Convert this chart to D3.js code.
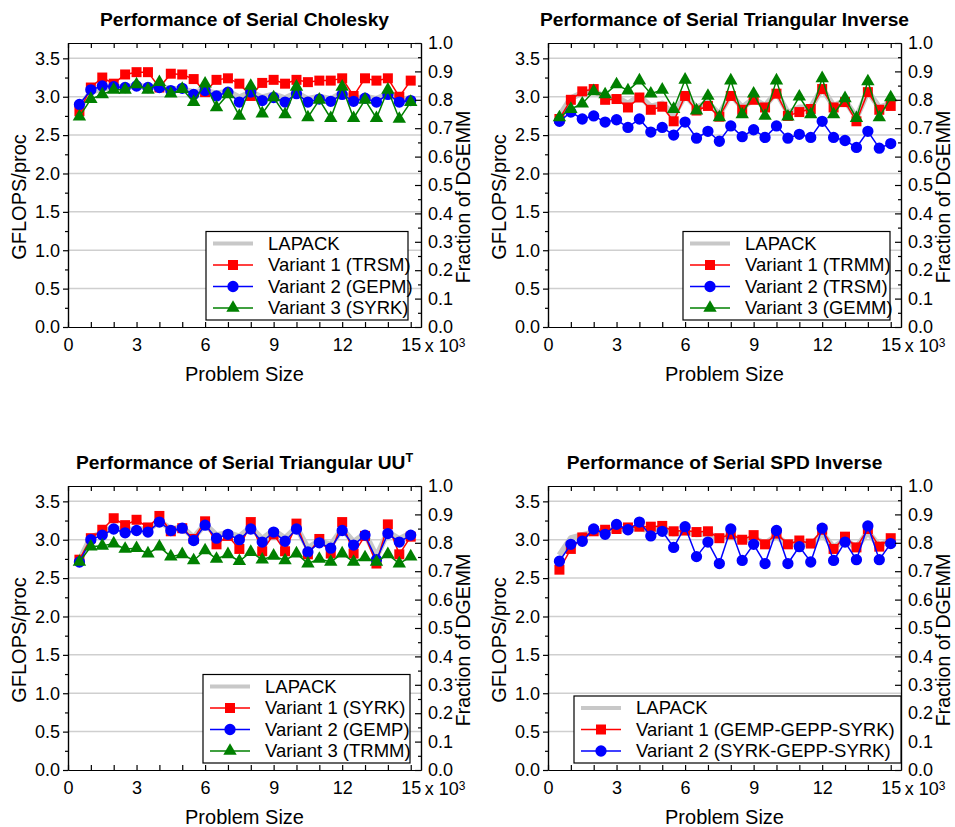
<!DOCTYPE html>
<html>
<head>
<meta charset="utf-8">
<script src="https://cdnjs.cloudflare.com/ajax/libs/d3/7.8.5/d3.min.js"></script>
<style>
body { margin: 0; background: #fff; }
svg { font-family: 'Liberation Sans', Arial, sans-serif; }
</style>
</head>
<body>
<svg id="chart"></svg>
<script>
let width = 955
let height = 827

// problem size, x 10^3
let sizes = [0.5, 1, 1.5, 2, 2.5, 3, 3.5, 4, 4.5, 5, 5.5, 6, 6.5, 7, 7.5, 8, 8.5, 9, 9.5, 10, 10.5, 11, 11.5, 12, 12.5, 13, 13.5, 14, 14.5, 15]

let xTicks = [0, 3, 6, 9, 12, 15]
let xMinorTicks = [0, 1, 2, 3, 4, 5, 6, 7, 8, 9, 10, 11, 12, 13, 14, 15]
let yTicks = [0, 0.5, 1, 1.5, 2, 2.5, 3, 3.5]
let yMinorTicks = [0.25, 0.75, 1.25, 1.75, 2.25, 2.75, 3.25]
let fracTicks = [0, 0.1, 0.2, 0.3, 0.4, 0.5, 0.6, 0.7, 0.8, 0.9, 1.0]
let fracMinorTicks = [0.05, 0.15, 0.25, 0.35, 0.45, 0.55, 0.65, 0.75, 0.85, 0.95]

// GFLOPS of DGEMM (fraction axis = 1.0)
let dgemmPeak = 3.7

// Serial Cholesky
let cholLapack = [2.86, 3.06, 3.11, 3.12, 3.13, 3.14, 3.13, 3.13, 3.10, 3.10, 3.06, 3.08, 3.04, 3.07, 2.99, 3.06, 2.99, 3.03, 2.98, 3.05, 2.97, 3.00, 2.97, 3.05, 2.97, 3.00, 2.97, 3.04, 2.96, 2.98]
let cholTrsm = [2.81, 3.12, 3.25, 3.17, 3.29, 3.32, 3.32, 3.12, 3.30, 3.29, 3.23, 3.06, 3.22, 3.24, 3.17, 3.01, 3.18, 3.22, 3.17, 3.22, 3.19, 3.21, 3.21, 3.24, 3.01, 3.24, 3.21, 3.24, 3.00, 3.21]
let cholGepm = [2.90, 3.09, 3.14, 3.13, 3.12, 3.14, 3.12, 3.12, 3.08, 3.11, 3.03, 3.08, 3.01, 3.06, 2.93, 3.06, 2.95, 2.99, 2.93, 3.04, 2.93, 2.97, 2.94, 3.03, 2.94, 2.98, 2.93, 3.03, 2.93, 2.95]
let cholSyrk = [2.74, 2.97, 3.03, 3.09, 3.09, 3.16, 3.09, 3.19, 3.04, 3.10, 2.93, 3.17, 2.86, 3.03, 2.75, 3.14, 2.78, 2.99, 2.77, 3.13, 2.73, 2.96, 2.72, 3.13, 2.72, 2.96, 2.72, 3.09, 2.71, 2.93]

// Serial Triangular Inverse
let triLapack = [2.75, 2.98, 3.05, 3.08, 2.99, 2.99, 2.91, 3.01, 2.87, 2.91, 2.76, 3.02, 2.86, 2.92, 2.77, 3.03, 2.86, 2.97, 2.88, 3.06, 2.79, 2.86, 2.86, 3.11, 2.88, 2.95, 2.73, 3.07, 2.86, 2.91]
let triTrmm = [2.71, 2.96, 3.07, 3.10, 2.96, 2.97, 2.86, 2.99, 2.83, 2.87, 2.68, 3.01, 2.82, 2.88, 2.74, 3.01, 2.83, 2.96, 2.86, 3.04, 2.75, 2.80, 2.84, 3.10, 2.86, 2.93, 2.68, 3.06, 2.83, 2.88]
let triTrsm = [2.68, 2.80, 2.71, 2.75, 2.67, 2.70, 2.60, 2.71, 2.54, 2.60, 2.50, 2.67, 2.46, 2.55, 2.42, 2.62, 2.48, 2.57, 2.47, 2.62, 2.46, 2.51, 2.47, 2.68, 2.47, 2.43, 2.34, 2.55, 2.33, 2.39]
let triGemm = [2.73, 2.84, 2.91, 3.07, 3.03, 3.16, 3.08, 3.21, 3.04, 3.09, 2.84, 3.22, 2.82, 3.01, 2.73, 3.21, 2.77, 3.04, 2.75, 3.21, 2.74, 3.00, 2.77, 3.24, 2.77, 2.98, 2.72, 3.20, 2.73, 2.99]

// Serial Triangular UU^T
let uuLapack = [2.73, 3.03, 3.09, 3.16, 3.12, 3.14, 3.13, 3.24, 3.14, 3.16, 3.03, 3.20, 3.06, 3.09, 3.04, 3.16, 3.01, 3.12, 3.02, 3.16, 2.89, 2.99, 2.93, 3.14, 2.97, 3.08, 2.78, 3.10, 3.01, 3.08]
let uuSyrk = [2.74, 3.02, 3.13, 3.28, 3.19, 3.26, 3.16, 3.31, 3.11, 3.15, 3.01, 3.24, 2.94, 3.05, 2.88, 3.23, 2.85, 3.07, 2.85, 3.21, 2.81, 3.01, 2.82, 3.23, 2.82, 3.05, 2.69, 3.20, 2.81, 3.04]
let uuGemp = [2.71, 3.00, 3.06, 3.14, 3.09, 3.12, 3.10, 3.23, 3.12, 3.15, 2.99, 3.19, 3.02, 3.07, 3.00, 3.14, 2.97, 3.10, 2.98, 3.14, 2.84, 2.96, 2.89, 3.12, 2.93, 3.06, 2.74, 3.08, 2.97, 3.06]
let uuTrmm = [2.71, 2.91, 2.92, 2.95, 2.88, 2.89, 2.82, 2.91, 2.78, 2.81, 2.73, 2.86, 2.75, 2.81, 2.72, 2.84, 2.74, 2.79, 2.73, 2.82, 2.69, 2.75, 2.71, 2.82, 2.71, 2.77, 2.71, 2.81, 2.69, 2.78]

// Serial SPD Inverse
let spdLapack = [2.80, 3.02, 3.06, 3.10, 3.12, 3.13, 3.14, 3.15, 3.12, 3.13, 3.08, 3.10, 3.07, 3.08, 3.02, 3.05, 2.98, 3.02, 2.95, 3.05, 2.93, 2.97, 2.93, 3.08, 2.90, 3.00, 2.90, 3.10, 2.92, 3.00]
let spdGemp = [2.61, 2.88, 3.03, 3.11, 3.13, 3.14, 3.16, 3.17, 3.17, 3.18, 3.11, 3.12, 3.10, 3.11, 3.02, 3.07, 3.00, 3.06, 2.94, 3.08, 2.94, 2.99, 2.95, 3.13, 2.88, 3.04, 2.90, 3.14, 2.91, 3.02]
let spdSyrk = [2.72, 2.94, 2.98, 3.14, 3.07, 3.20, 3.13, 3.23, 3.05, 3.11, 2.90, 3.17, 2.78, 2.97, 2.69, 3.14, 2.73, 2.94, 2.69, 3.12, 2.69, 2.91, 2.71, 3.15, 2.73, 2.97, 2.74, 3.18, 2.74, 2.95]

let red = '#ff0000'
let blue = '#0000ff'
let green = '#008000'
let gray = '#c8c8c8'

let panels = [
    {title: 'Performance of Serial Cholesky', ox: 0, oy: 0, legendX: 206, legendW: 202,
        series: [
            {label: 'LAPACK', values: cholLapack},
            {label: 'Variant 1 (TRSM)', values: cholTrsm, color: red, marker: d3.symbolSquare},
            {label: 'Variant 2 (GEPM)', values: cholGepm, color: blue, marker: d3.symbolCircle},
            {label: 'Variant 3 (SYRK)', values: cholSyrk, color: green, marker: d3.symbolTriangle}
        ]},
    {title: 'Performance of Serial Triangular Inverse', ox: 480, oy: 0, legendX: 203, legendW: 207,
        series: [
            {label: 'LAPACK', values: triLapack},
            {label: 'Variant 1 (TRMM)', values: triTrmm, color: red, marker: d3.symbolSquare},
            {label: 'Variant 2 (TRSM)', values: triTrsm, color: blue, marker: d3.symbolCircle},
            {label: 'Variant 3 (GEMM)', values: triGemm, color: green, marker: d3.symbolTriangle}
        ]},
    {title: 'Performance of Serial Triangular UU', sup: 'T', ox: 0, oy: 443, legendX: 203, legendW: 207,
        series: [
            {label: 'LAPACK', values: uuLapack},
            {label: 'Variant 1 (SYRK)', values: uuSyrk, color: red, marker: d3.symbolSquare},
            {label: 'Variant 2 (GEMP)', values: uuGemp, color: blue, marker: d3.symbolCircle},
            {label: 'Variant 3 (TRMM)', values: uuTrmm, color: green, marker: d3.symbolTriangle}
        ]},
    {title: 'Performance of Serial SPD Inverse', ox: 480, oy: 443, legendX: 94, legendW: 327,
        series: [
            {label: 'LAPACK', values: spdLapack},
            {label: 'Variant 1 (GEMP-GEPP-SYRK)', values: spdGemp, color: red, marker: d3.symbolSquare},
            {label: 'Variant 2 (SYRK-GEPP-SYRK)', values: spdSyrk, color: blue, marker: d3.symbolCircle}
        ]}
]

let svg = d3.select('#chart')
    .attr('width', width)
    .attr('height', height)

let plotLeft = 68
let plotRight = 421
let plotTop = 43
let plotBottom = 327

let markerSize = (marker) => {
    if (marker === d3.symbolSquare) return 100
    if (marker === d3.symbolCircle) return 100
    return 78
}

let styleAxis = (g) => {
    g.attr('font-family', null)
     .attr('font-size', 18)
    g.selectAll('text').attr('fill', '#000')
    g.selectAll('line, path').attr('stroke', '#000').attr('stroke-width', 1.2)
}

let drawPanel = (p) => {
    let g = svg.append('g').attr('transform', 'translate(' + p.ox + ',' + p.oy + ')')

    let xScale = d3.scaleLinear().domain([0, 15.45]).range([plotLeft, plotRight])
    let yScale = d3.scaleLinear().domain([0, dgemmPeak]).range([plotBottom, plotTop])
    let fracScale = d3.scaleLinear().domain([0, 1]).range([plotBottom, plotTop])

    // title
    let title = g.append('text')
        .attr('x', (plotLeft + plotRight) / 2)
        .attr('y', 26)
        .attr('text-anchor', 'middle')
        .attr('font-size', 19.2)
        .attr('font-weight', 'bold')
        .text(p.title)
    if (p.sup) {
        title.append('tspan').attr('dy', -7).attr('font-size', 12.5).text(p.sup)
    }

    // grid
    g.selectAll('.grid')
        .data(yTicks.filter(d => d > 0))
        .enter()
        .append('line')
        .attr('x1', plotLeft)
        .attr('x2', plotRight)
        .attr('y1', d => yScale(d))
        .attr('y2', d => yScale(d))
        .attr('stroke', '#cfcfcf')
        .attr('stroke-width', 1.5)

    // series
    let line = d3.line()
        .x((d, i) => xScale(sizes[i]))
        .y(d => yScale(d))

    p.series.forEach((s) => {
        if (!s.color) {
            g.append('path')
                .datum(s.values)
                .attr('d', line)
                .attr('fill', 'none')
                .attr('stroke', gray)
                .attr('stroke-width', 6)
                .attr('stroke-linejoin', 'round')
            return
        }
        g.append('path')
            .datum(s.values)
            .attr('d', line)
            .attr('fill', 'none')
            .attr('stroke', s.color)
            .attr('stroke-width', 1.5)
        g.selectAll(null)
            .data(s.values)
            .enter()
            .append('path')
            .attr('d', d3.symbol().type(s.marker).size(markerSize(s.marker)))
            .attr('transform', (d, i) => 'translate(' + xScale(sizes[i]) + ',' + yScale(d) + ')')
            .attr('fill', s.color)
    })

    // axes
    let bottom = g.append('g')
        .attr('transform', 'translate(0,' + plotBottom + ')')
        .call(d3.axisBottom(xScale).tickValues(xMinorTicks).tickSizeInner(-5).tickSizeOuter(0).tickPadding(11)
            .tickFormat(d => xTicks.includes(d) ? d : ''))
    styleAxis(bottom)

    let top = g.append('g')
        .attr('transform', 'translate(0,' + plotTop + ')')
        .call(d3.axisTop(xScale).tickValues(xMinorTicks).tickSizeInner(-5).tickSizeOuter(0).tickFormat(''))
    styleAxis(top)

    let left = g.append('g')
        .attr('transform', 'translate(' + plotLeft + ',0)')
        .call(d3.axisLeft(yScale).tickValues(yTicks).tickSizeInner(5).tickSizeOuter(0).tickPadding(3)
            .tickFormat(d3.format('.1f')))
    styleAxis(left)

    let leftMinor = g.append('g')
        .attr('transform', 'translate(' + plotLeft + ',0)')
        .call(d3.axisLeft(yScale).tickValues(yMinorTicks).tickSizeInner(3).tickSizeOuter(0).tickFormat(''))
    styleAxis(leftMinor)

    let right = g.append('g')
        .attr('transform', 'translate(' + plotRight + ',0)')
        .call(d3.axisRight(fracScale).tickValues(fracTicks).tickSizeInner(-6).tickSizeOuter(0).tickPadding(7)
            .tickFormat(d3.format('.1f')))
    styleAxis(right)

    let rightMinor = g.append('g')
        .attr('transform', 'translate(' + plotRight + ',0)')
        .call(d3.axisRight(fracScale).tickValues(fracMinorTicks).tickSizeInner(-3).tickSizeOuter(0).tickFormat(''))
    styleAxis(rightMinor)

    // x 10^3
    let mult = g.append('text')
        .attr('x', xScale(15) + 14)
        .attr('y', plotBottom + 12)
        .attr('dy', '0.71em')
        .attr('font-size', 18)
        .text('x 10')
    mult.append('tspan').attr('dy', -5).attr('font-size', 12).text('3')

    // axis titles
    g.append('text')
        .attr('x', (plotLeft + plotRight) / 2)
        .attr('y', 381)
        .attr('text-anchor', 'middle')
        .attr('font-size', 20)
        .text('Problem Size')

    g.append('text')
        .attr('transform', 'translate(19,197) rotate(-90)')
        .attr('text-anchor', 'middle')
        .attr('dy', '0.35em')
        .attr('font-size', 20)
        .text('GFLOPS/proc')

    g.append('text')
        .attr('transform', 'translate(463,197) rotate(-90)')
        .attr('text-anchor', 'middle')
        .attr('dy', '0.35em')
        .attr('font-size', 19.5)
        .text('Fraction of DGEMM')

    // legend
    let rowH = 21.5
    let legendH = 12 + (p.series.length - 1) * rowH + 12
    let legend = g.append('g')
        .attr('transform', 'translate(' + p.legendX + ',' + (plotBottom - 7 - legendH) + ')')
    legend.append('rect')
        .attr('width', p.legendW)
        .attr('height', legendH)
        .attr('fill', '#fff')
        .attr('stroke', '#000')
        .attr('stroke-width', 1.2)
    p.series.forEach((s, i) => {
        let y = 12 + i * rowH
        legend.append('line')
            .attr('x1', 7)
            .attr('x2', 47)
            .attr('y1', y)
            .attr('y2', y)
            .attr('stroke', s.color || gray)
            .attr('stroke-width', s.color ? 1.5 : 4)
        if (s.marker) {
            legend.append('path')
                .attr('d', d3.symbol().type(s.marker).size(markerSize(s.marker)))
                .attr('transform', 'translate(27,' + y + ')')
                .attr('fill', s.color)
        }
        legend.append('text')
            .attr('x', 62)
            .attr('y', y)
            .attr('dy', '0.35em')
            .attr('font-size', 18.5)
            .text(s.label)
    })
}

panels.forEach(drawPanel)
</script>
</body>
</html>
